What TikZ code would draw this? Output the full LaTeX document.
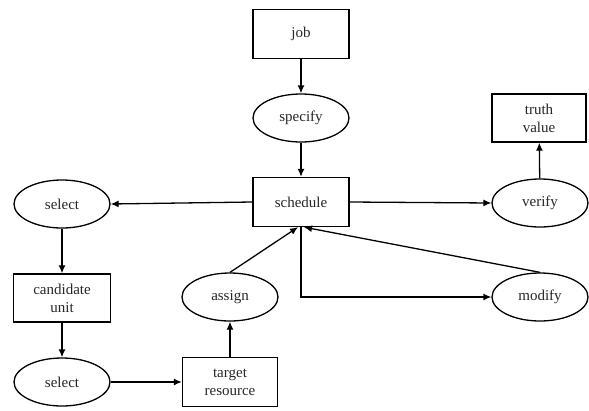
\documentclass[tikz,border=0pt]{standalone}
\usepackage{fontspec}
\setmainfont{Liberation Serif}
\usetikzlibrary{arrows.meta,shapes.geometric}
\begin{document}
\begin{tikzpicture}[x=1pt,y=-1pt,
  every node/.style={font=\fontsize{15}{18}\selectfont, text=black!85, inner sep=0pt},
  boxnode/.style={draw, line width=1.3pt, minimum width=96pt, minimum height=49pt, align=center},
  ellnode/.style={draw, ellipse, line width=1.3pt, minimum width=96pt, minimum height=48pt, align=center},
  arr/.style={line width=1.3pt, -{Latex[length=8pt,width=7pt]}}]
\useasboundingbox (0,0) rectangle (589,410);
\node[boxnode] (job) at (301,34) {job};
\node[ellnode] (specify) at (301,118) {specify};
\node[boxnode] (sched) at (301,202) {schedule};
\node[boxnode, minimum width=94pt, minimum height=48pt] (truth) at (539,118) {truth\\value};
\node[ellnode] (verify) at (540,203) {verify};
\node[ellnode] (modify) at (540,297) {modify};
\node[ellnode] (sel1) at (62,204) {select};
\node[boxnode, minimum width=97pt, minimum height=48pt] (cand) at (62,298) {candidate\\unit};
\node[ellnode] (sel2) at (62,382) {select};
\node[ellnode] (assign) at (230,297) {assign};
\node[boxnode, minimum width=95pt] (target) at (230,382) {target\\resource};
\draw[arr] (job) -- (specify);
\draw[arr] (specify) -- (sched);
\draw[arr] (sched.west) -- (sel1.east);
\draw[arr] (sched.east) -- (verify.west);
\draw[arr] (verify) -- (truth);
\draw[arr] (sel1) -- (cand);
\draw[arr] (cand) -- (sel2);
\draw[arr] (sel2.east) -- (target.west |- sel2.east);
\draw[arr] (target) -- (assign);
\draw[arr] (assign.north) -- ([xshift=-3pt]sched.south);
\draw[arr] (modify.north) -- ([xshift=3pt]sched.south);
\draw[arr] (sched.south) |- (modify.west);
\end{tikzpicture}
\end{document}
